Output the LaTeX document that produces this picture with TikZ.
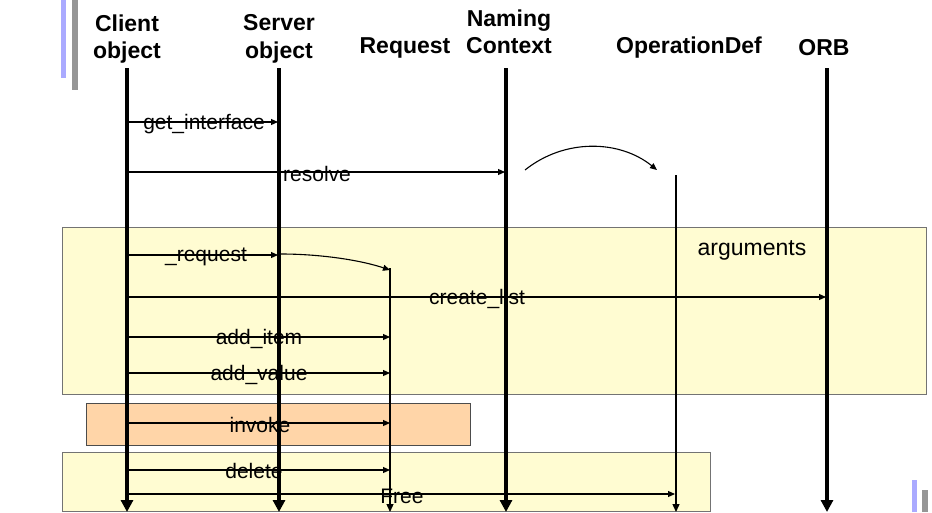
\documentclass[tikz,border=0pt]{standalone}
\usepackage{fontspec}
\setmainfont{Liberation Sans}
\usetikzlibrary{arrows.meta}
\definecolor{boxyellow}{RGB}{255,252,210}
\definecolor{boxorange}{RGB}{255,213,168}
\definecolor{barblue}{RGB}{170,170,255}
\definecolor{bargrey}{RGB}{150,150,150}
\tikzset{
  head/.style={font=\bfseries\fontsize{23}{27.5}\selectfont, align=center, inner sep=0pt},
  lbl/.style={font=\fontsize{21}{23}\selectfont, inner sep=0pt},
  thickline/.style={line width=4pt, -{Triangle[length=12pt,width=12pt]}},
  thinline/.style={line width=1.3pt, -{Triangle[length=8pt,width=7pt]}},
  msg/.style={line width=1.1pt, -{Triangle[length=7pt,width=6pt]}},
  ybox/.style={fill=boxyellow, draw=black!55, line width=1pt},
  obox/.style={fill=boxorange, draw=black!70, line width=1pt},
}
\begin{document}
\begin{tikzpicture}[x=1pt,y=-1pt]
\useasboundingbox (0,0) rectangle (932,512);
% decorative bars
\fill[barblue] (61,0) rectangle (66,78);
\fill[bargrey] (72,0) rectangle (78,90);
\fill[barblue] (912,480) rectangle (917,512);
\fill[bargrey] (922,490) rectangle (928,512);
% boxes
\node[ybox, minimum width=864pt, minimum height=167pt, anchor=north west, inner sep=0pt] (argbox) at (62,227) {};
\node[obox, minimum width=384pt, minimum height=42pt, anchor=north west, inner sep=0pt] (invbox) at (86,403) {};
\node[ybox, minimum width=648pt, minimum height=59pt, anchor=north west, inner sep=0pt] (delbox) at (62,452) {};
% headers
\node[head] (hclient) at (127,39) {Client\\object};
\node[head] (hserver) at (279,39) {Server\\object};
\node[head] (hrequest) at (405,48) {Request};
\node[head] (hnaming) at (509,32) {Naming\\Context};
\node[head] (hopdef) at (689,48) {OperationDef};
\node[head] (horb) at (824,48) {ORB};
% lifeline endpoints
\coordinate (ct) at (127,68); \coordinate (cb) at (127,512);
\coordinate (st) at (279,68); \coordinate (sb) at (279,512);
\coordinate (rt) at (390,268); \coordinate (rb) at (390,512);
\coordinate (nt) at (506,68); \coordinate (nb) at (506,512);
\coordinate (ot) at (676,175); \coordinate (ob) at (676,512);
\coordinate (bt) at (827,68); \coordinate (bb) at (827,512);
% message endpoints
\coordinate (m1a) at (127,122); \coordinate (m1b) at (278,122);
\coordinate (m2a) at (127,172); \coordinate (m2b) at (505,172);
\coordinate (cva) at (525,170); \coordinate (cvb) at (657,170);
\coordinate (m3a) at (127,255); \coordinate (m3b) at (278,255);
\coordinate (m3c) at (281,254); \coordinate (m3d) at (390,270);
\coordinate (m4a) at (127,297); \coordinate (m4b) at (826,297);
\coordinate (m5a) at (127,337); \coordinate (m5b) at (390,337);
\coordinate (m6a) at (127,373); \coordinate (m6b) at (390,373);
\coordinate (m7a) at (127,423); \coordinate (m7b) at (390,423);
\coordinate (m8a) at (127,470); \coordinate (m8b) at (390,470);
\coordinate (m9a) at (127,494); \coordinate (m9b) at (675,494);
% messages
\draw[msg] (m1a) -- (m1b);
\draw[msg] (m2a) -- (m2b);
\draw[msg] (cva) .. controls (565,138) and (620,140) .. (cvb);
\draw[msg] (m3a) -- (m3b);
\draw[msg] (m3c) .. controls (320,254) and (360,260) .. (m3d);
\draw[msg] (m4a) -- (m4b);
\draw[msg] (m5a) -- (m5b);
\draw[msg] (m6a) -- (m6b);
\draw[msg] (m7a) -- (m7b);
\draw[msg] (m8a) -- (m8b);
\draw[msg] (m9a) -- (m9b);
% lifelines
\draw[thickline] (ct) -- (cb);
\draw[thickline] (st) -- (sb);
\draw[thinline] (rt) -- (rb);
\draw[thickline] (nt) -- (nb);
\draw[thinline] (ot) -- (ob);
\draw[thickline] (bt) -- (bb);
% labels
\node[lbl] (l1) at (204,124) {get\_interface};
\node[lbl] (l2) at (317,174) {resolve};
\node[lbl] (l3) at (206,257) {\_request};
\node[lbl] (l4) at (477,299) {create\_list};
\node[lbl] (l5) at (259,339) {add\_item};
\node[lbl] (l6) at (259,375) {add\_value};
\node[lbl] (l7) at (260,425) {invoke};
\node[lbl] (l8) at (254,471) {delete};
\node[lbl] (l9) at (402,496) {Free};
\node[lbl, font=\fontsize{23}{25}\selectfont] (l10) at (752,250) {arguments};
\end{tikzpicture}
\end{document}
